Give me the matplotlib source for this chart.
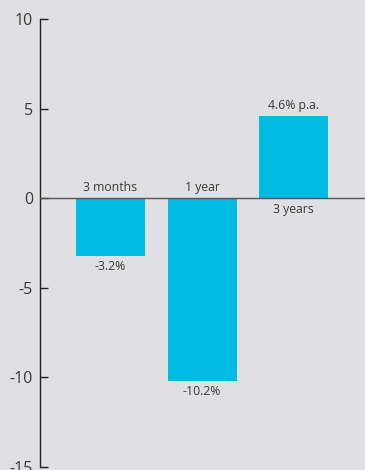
import matplotlib
matplotlib.use('Agg')
import matplotlib.pyplot as plt
import numpy as np

periods = ['3 months', '1 year', '3 years']
returns = [-3.2, -10.2, 4.6]
value_labels = ['-3.2%', '-10.2%', '4.6% p.a.']
y_ticks = [10, 5, 0, -5, -10, -15]

bg = '#e0e0e3'
bar_color = '#00bce4'
text_color = '#3a3a3a'

plt.rcParams['font.family'] = ['Open Sans', 'DejaVu Sans']

fig = plt.figure(figsize=(3.65, 4.70), dpi=100, facecolor=bg)
ax = fig.add_axes([40 / 365, 3 / 470, 325 / 365, 448 / 470])
ax.set_facecolor(bg)

x = np.arange(len(periods))
ax.bar(x, returns, width=0.754, color=bar_color, zorder=2)
ax.axhline(0, color='#555555', lw=1.0, zorder=3)

fs = 8.8
for xi, val, cat, lab in zip(x, returns, periods, value_labels):
    if val < 0:
        ax.text(xi, 0.25, cat, ha='center', va='bottom', fontsize=fs, color=text_color)
        ax.text(xi, val - 0.25, lab, ha='center', va='top', fontsize=fs, color=text_color)
    else:
        ax.text(xi, -0.25, cat, ha='center', va='top', fontsize=fs, color=text_color)
        ax.text(xi, val + 0.2, lab, ha='center', va='bottom', fontsize=fs, color=text_color)

ax.set_xlim(-0.77, 2.78)
ax.set_ylim(-15, 10)
ax.set_yticks(y_ticks)
ax.set_yticklabels([str(t) for t in y_ticks])
ax.set_xticks([])
ax.tick_params(axis='y', direction='in', length=6, width=1, color='#222222',
               labelsize=11.5, labelcolor=text_color, pad=5)
for s in ['top', 'right', 'bottom']:
    ax.spines[s].set_visible(False)
ax.spines['left'].set_color('#222222')
ax.spines['left'].set_linewidth(1)

fig.savefig('out.png', dpi=100, facecolor=bg)
